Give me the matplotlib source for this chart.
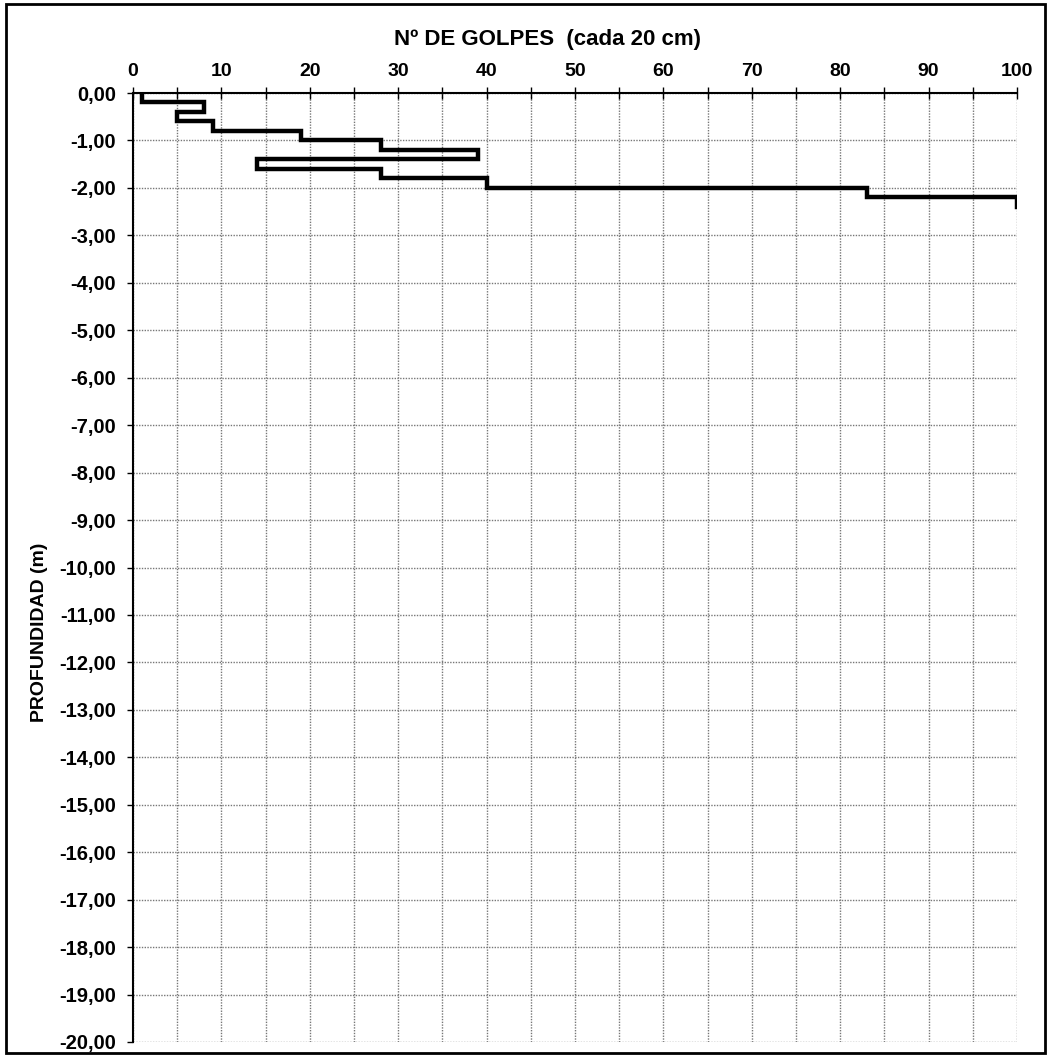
import matplotlib.pyplot as plt
import matplotlib.ticker as mticker
from matplotlib.patches import Rectangle
import numpy as np

# Ensayo de penetración: golpes cada 20 cm
profundidad_ini = [0.0, 0.2, 0.4, 0.6, 0.8, 1.0, 1.2, 1.4, 1.6, 1.8, 2.0, 2.2]
golpes = [1, 8, 5, 9, 19, 28, 39, 14, 28, 40, 83, 100]
tramo = 0.2

plt.rcParams['font.family'] = ['Liberation Sans', 'DejaVu Sans']
plt.rcParams['font.weight'] = 'bold'

W, H = 1049, 1058
fig = plt.figure(figsize=(W / 100, H / 100), dpi=100)

# Ejes en píxeles de la figura
x0, x1, y0, y1 = 133, 1017, 93, 1042
ax = fig.add_axes([x0 / W, 1 - y1 / H, (x1 - x0) / W, (y1 - y0) / H])

# Escalones: cada valor ocupa su tramo de 20 cm
xs = np.repeat(golpes, 2)
ys = []
for p in profundidad_ini:
    ys += [-p, -(p + tramo)]
ax.plot(xs, ys, color='black', lw=3.2, solid_joinstyle='miter', zorder=3)

ax.set_xlim(0, 100)
ax.set_ylim(-20, 0)

ax.xaxis.tick_top()
ax.xaxis.set_major_locator(mticker.MultipleLocator(10))
ax.xaxis.set_minor_locator(mticker.MultipleLocator(5))
ax.yaxis.set_major_locator(mticker.MultipleLocator(1))
ax.yaxis.set_major_formatter(mticker.FuncFormatter(lambda v, p: f"{v:.2f}".replace('.', ',')))

ax.tick_params(axis='x', which='both', direction='inout', length=8, width=1, labelsize=14, pad=5)
ax.tick_params(axis='y', which='major', direction='out', length=4.5, width=1, labelsize=14.5, pad=7.5)
for lab in ax.get_xticklabels() + ax.get_yticklabels():
    lab.set_fontweight('bold')

ax.grid(True, which='both', axis='x', color='#777777', linestyle=(0, (1, 1)), lw=1.0)
ax.grid(True, which='major', axis='y', color='#777777', linestyle=(0, (1, 1)), lw=1.0)

ax.spines['right'].set_visible(False)
ax.spines['bottom'].set_visible(False)
ax.spines['left'].set_linewidth(1.5)
ax.spines['top'].set_linewidth(1.5)

fig.text(548 / W, 1 - 40 / H, 'Nº DE GOLPES  (cada 20 cm)', ha='center', va='center',
         fontsize=16, fontweight='bold')
fig.text(40 / W, 1 - 632 / H, 'PROFUNDIDAD (m)', ha='center', va='center',
         rotation=90, fontsize=14, fontweight='bold')

# Marco exterior
fig.patches.append(Rectangle((6 / W, 1 - 1053 / H), (1045 - 6) / W, (1053 - 4) / H,
                             transform=fig.transFigure, fill=False, edgecolor='black', lw=2))

fig.savefig('out.png', dpi=100)
